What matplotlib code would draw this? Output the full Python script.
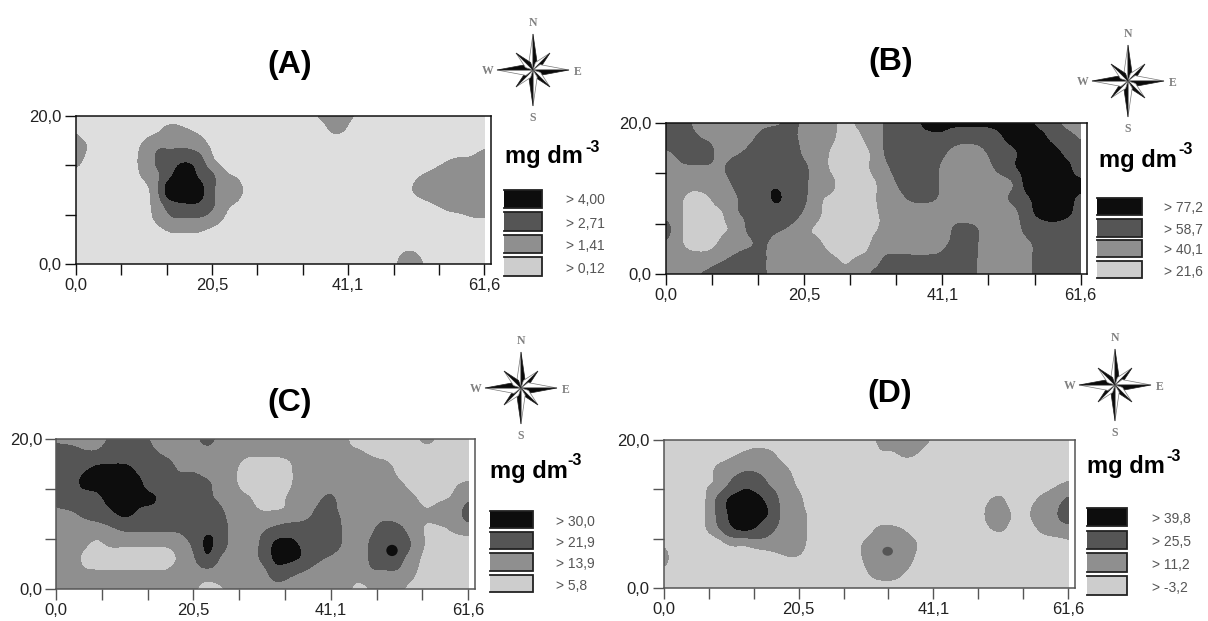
import numpy as np
import matplotlib
matplotlib.use("Agg")
import matplotlib.pyplot as plt
from matplotlib.patches import Polygon, Rectangle, Ellipse

plt.rcParams['font.family'] = ['Liberation Sans', 'DejaVu Sans']

W, H = 1208, 621

# Class-scale readings on a 31 x 11 node grid (top row first): 0-2 lowest class,
# 3-5 second, 6-8 third, 9 and above (hex digits) top class
grid_a = [
    "1000000000 0000000134 3210000000 0",
    "2000012432 1000000013 2000000000 0",
    "5210135554 2100000000 0000000001 2",
    "4100236787 3100000000 0000001233 4",
    "10001358b8 6320000000 0000023455 5",
    "0000015bba 6431000000 0000134555 5",
    "0000014788 6320000000 0000012344 5",
    "0000013555 4210000000 0000000112 2",
    "0000001222 1000000000 0000000000 0",
    "0000000000 0000000000 0000220000 0",
    "0000000000 0000000000 0000441000 0",
]
grid_b = [
    "8854445556 5432346789 9999999874 2",
    "7765445676 5431246788 8777899987 5",
    "5677456777 5420136787 6435789998 7",
    "4555577777 6420135777 5434689999 7",
    "3444467887 6431124677 5433459999 9",
    "3312457797 6321124566 5433468999 8",
    "4311256777 5310023444 4444447999 7",
    "7310236765 3200023344 4665446787 6",
    "5311345644 3310034444 5665445677 7",
    "4444567644 4432346666 6765445677 7",
    "4456777644 4443467777 7765445677 7",
]
grid_c = [
    "4444677544 4744444444 4310001410 0",
    "8766777654 4444333334 4332100000 0",
    "7789998775 5443000244 4444410000 0",
    "7799999777 7643000244 4444431002 3",
    "6778999977 7654301345 6444443123 5",
    "5567898777 7764433346 6544444344 7",
    "4444566666 7874456777 7545764223 4",
    "4432333334 6974469987 7546775211 1",
    "4421111113 5854469986 5446764100 0",
    "4433333334 4444447654 4445553000 0",
    "4444444444 3124444444 4413431000 0",
]
grid_d = [
    "0000000000 0000013444 2000000000 0",
    "0000123431 0000002232 0000000000 0",
    "0001345543 1000000000 0000000000 1",
    "0002368754 2100000000 0000000012 3",
    "0002699974 3100000000 0000230134 6",
    "0002699984 3200000000 0000342255 8",
    "0002589864 3200013320 0000231134 4",
    "2000133444 4100134442 0000000011 2",
    "4000000012 2000135541 0000000000 0",
    "1000000000 0000024420 0000000000 0",
    "0000000000 0000000000 0000000000 0",
]

levels_a = [0.12, 1.41, 2.71, 4.00]
levels_b = [21.6, 40.1, 58.7, 77.2]
levels_c = [5.8, 13.9, 21.9, 30.0]
levels_d = [-3.2, 11.2, 25.5, 39.8]

legend_a = ["> 4,00", "> 2,71", "> 1,41", "> 0,12"]
legend_b = ["> 77,2", "> 58,7", "> 40,1", "> 21,6"]
legend_c = ["> 30,0", "> 21,9", "> 13,9", "> 5,8"]
legend_d = ["> 39,8", "> 25,5", "> 11,2", "> -3,2"]

panel_names = ["(A)", "(B)", "(C)", "(D)"]
unit_label = "mg dm"
unit_power = "-3"
x_tick_labels = ["0,0", "", "", "20,5", "", "", "41,1", "", "", "61,6"]
y_tick_labels = ["0,0", "", "", "20,0"]
X_MAX, Y_MAX = 61.6, 20.0

# small closed spots narrower than the grid spacing: x, y, x radius, y radius, class
spots_c = [(50.2, 5.1, 0.85, 0.75, 3)]
spots_d = [(34.1, 4.98, 0.80, 0.60, 2)]

class_colors = ['#dedede', '#8f8f8f', '#555555', '#0d0d0d']
swatch_colors = ['#0d0d0d', '#555555', '#8f8f8f', '#cdcdcd']

panels = [
    dict(grid=grid_a, levels=levels_a, legend=legend_a, spots=[], name=panel_names[0],
         box=(75.7, 490.7, 484.3, 116.0, 264.3), light='#dedede', spine='#111111',
         title=(290, 65), unit=(505, 163), sup=(585, 152), sw_x=(504, 541.5),
         sw_y=[(190, 208), (212, 231), (235, 253), (257, 276)], lab_x=566.5,
         lab_y=[200.5, 224, 246.5, 269], rose=(533, 70)),
    dict(grid=grid_b, levels=levels_b, legend=legend_b, spots=[], name=panel_names[1],
         box=(665.7, 1087.0, 1080.7, 122.7, 274.0), light='#cdcdcd', spine='#111111',
         title=(891, 62), unit=(1099, 167), sup=(1178, 154), sw_x=(1097, 1142),
         sw_y=[(198, 215), (219, 237), (240, 257), (261, 278)], lab_x=1164,
         lab_y=[208, 230.5, 250.5, 271.5], rose=(1128, 81)),
    dict(grid=grid_c, levels=levels_c, legend=legend_c, spots=spots_c, name=panel_names[2],
         box=(56.0, 475.0, 468.3, 438.7, 588.7), light='#cdcdcd', spine='#555555',
         title=(290, 403), unit=(490, 478), sup=(567, 465), sw_x=(490, 532.5),
         sw_y=[(511, 528), (532, 549), (553, 571), (575, 592)], lab_x=556,
         lab_y=[522.5, 543, 564, 586], rose=(521, 388)),
    dict(grid=grid_d, levels=levels_d, legend=legend_d, spots=spots_d, name=panel_names[3],
         box=(663.7, 1075.0, 1068.3, 439.7, 588.3), light='#d0d0d0', spine='#555555',
         title=(890, 394), unit=(1087, 473), sup=(1166, 461), sw_x=(1087, 1127),
         sw_y=[(508, 526), (531, 549), (553, 572), (576, 595)], lab_x=1152,
         lab_y=[519, 541.5, 565, 588], rose=(1115, 385)),
]


def parse(rows):
    return np.array([[int(c, 16) for c in r.replace(' ', '')] for r in rows], float)


def cubic_axis(a, n):
    """Catmull-Rom refinement along the first axis."""
    m = a.shape[0]
    p = np.concatenate([2 * a[:1] - a[1:2], a, 2 * a[-1:] - a[-2:-1]], axis=0)
    out = []
    for i in range(m - 1):
        for t in np.arange(n) / n:
            t2, t3 = t * t, t * t * t
            out.append(0.5 * (2 * p[i + 1] + (p[i + 2] - p[i]) * t
                              + (2 * p[i] - 5 * p[i + 1] + 4 * p[i + 2] - p[i + 3]) * t2
                              + (-p[i] + 3 * p[i + 1] - 3 * p[i + 2] + p[i + 3]) * t3))
    out.append(a[-1])
    return np.array(out)


def refine(a, n=8, passes=2):
    c = cubic_axis(cubic_axis(a, n).T, n).T
    for _ in range(passes):
        p = np.pad(c, 1, mode='edge')
        c = sum(p[1 + i:p.shape[0] - 1 + i, 1 + j:p.shape[1] - 1 + j]
                for i in (-1, 0, 1) for j in (-1, 0, 1)) / 9.0
    return c


fig = plt.figure(figsize=(W / 100, H / 100), dpi=100, facecolor='white')
over = fig.add_axes([0, 0, 1, 1], zorder=5)
over.set_xlim(0, W)
over.set_ylim(H, 0)
over.axis('off')


def rose(cx, cy):
    for k in range(8):
        ang = k * np.pi / 4
        if k % 2 == 0:
            r, w = (36, 9.0) if k in (2, 6) else (36, 7.0)
        else:
            r, w = 24, 6.0
        ux, uy = np.sin(ang), -np.cos(ang)
        vx, vy = -uy, ux
        tip = (cx + ux * r, cy + uy * r)
        side1 = (cx + ux * 7 + vx * w * 0.6, cy + uy * 7 + vy * w * 0.6)
        side2 = (cx + ux * 7 - vx * w * 0.6, cy + uy * 7 - vy * w * 0.6)
        over.add_patch(Polygon([(cx, cy), side2, tip], closed=True, facecolor='white',
                               edgecolor='#777777', lw=0.5))
        over.add_patch(Polygon([(cx, cy), side1, tip], closed=True, facecolor='#0a0a0a',
                               edgecolor='#222222', lw=0.5))
    kw = dict(family='Liberation Serif', fontsize=8.5, fontweight='bold', color='#808080',
              ha='center', va='center')
    over.text(cx, cy - 47, 'N', **kw)
    over.text(cx, cy + 48, 'S', **kw)
    over.text(cx - 45, cy + 1, 'W', **kw)
    over.text(cx + 45, cy + 2, 'E', **kw)


for p in panels:
    L, R, X61, T, B = p['box']
    ax = fig.add_axes([L / W, 1 - B / H, (R - L) / W, (B - T) / H])
    ax.set_xlim(0, X_MAX * (R - L) / (X61 - L))
    ax.set_ylim(0, Y_MAX)

    lv = p['levels']
    top = lv[3] + (lv[3] - lv[2]) * 3
    z = refine(parse(p['grid']))
    z = np.interp(z, [-1.5, 2.5, 5.5, 8.5, 17.5], [lv[0], lv[1], lv[2], lv[3], top])
    xs = np.linspace(0, X_MAX, z.shape[1])
    ys = np.linspace(Y_MAX, 0, z.shape[0])
    colors = [p['light']] + class_colors[1:]
    ax.contourf(xs, ys, z, levels=[lv[0], lv[1], lv[2], lv[3], top], colors=colors,
                extend='both')
    for sx, sy, rx, ry, cls in p['spots']:
        ax.add_patch(Ellipse((sx, sy), 2 * rx, 2 * ry, facecolor=class_colors[cls],
                             edgecolor='none', zorder=3))

    ax.set_xticks(np.linspace(0, X_MAX, len(x_tick_labels)))
    ax.set_xticklabels(x_tick_labels, fontsize=12, color='#222222')
    ax.set_yticks(np.linspace(0, Y_MAX, len(y_tick_labels)))
    ax.set_yticklabels(y_tick_labels, fontsize=12, color='#222222')
    ax.tick_params(axis='both', length=8, width=1, color=p['spine'], pad=2)
    for s in ax.spines.values():
        s.set_color(p['spine'])
        s.set_linewidth(1.1)

    over.text(p['title'][0], p['title'][1], p['name'], fontsize=23, fontweight='bold',
              color='black', ha='center', va='center')
    over.text(p['unit'][0], p['unit'][1], unit_label, fontsize=17, fontweight='bold',
              color='black', ha='left', va='baseline')
    over.text(p['sup'][0], p['sup'][1], unit_power, fontsize=11.5, fontweight='bold',
              color='black', ha='left', va='baseline')
    x0, x1 = p['sw_x']
    for (y0, y1), col, lab, ly in zip(p['sw_y'], swatch_colors, p['legend'], p['lab_y']):
        over.add_patch(Rectangle((x0, y0), x1 - x0, y1 - y0, facecolor=col, edgecolor='none'))
        over.plot([x0, x1, x1, x0], [y0, y0, y1, y1], color='#222222', lw=1.3,
                  solid_joinstyle='miter')
        over.text(p['lab_x'], ly, lab, fontsize=10, color='#555555', ha='left', va='center')
    rose(*p['rose'])

over.set_xlim(0, W)
over.set_ylim(H, 0)
fig.savefig('out.png', dpi=100, facecolor='white')
